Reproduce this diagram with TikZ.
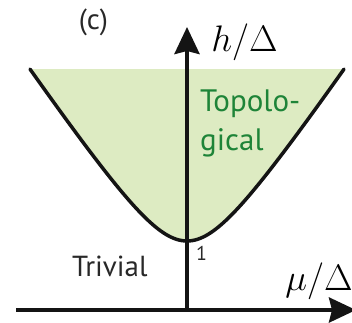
\documentclass[tikz,border=0pt]{standalone}
\usepackage{fontspec}
\newfontfamily\labelfont{PT Sans}
\usetikzlibrary{arrows.meta}
\definecolor{regionfill}{RGB}{221,235,194}
\definecolor{topogreen}{RGB}{30,132,56}
\definecolor{labelgray}{RGB}{40,40,40}
\definecolor{axisblack}{RGB}{20,20,20}
\tikzset{
  axisline/.style={draw=axisblack, line width=4pt, -{Stealth[length=27pt,width=25pt,inset=3pt]}},
  boundary/.style={draw=axisblack, line width=3.5pt},
  plaintext/.style={inner sep=0pt, anchor=base west, text=labelgray, font=\labelfont\fontsize{29}{34}\selectfont},
  greentext/.style={inner sep=0pt, anchor=base west, text=topogreen, font=\labelfont\fontsize{31}{36}\selectfont},
  mathlabel/.style={inner sep=0pt, anchor=base west, text=black, font=\fontsize{20}{24}\selectfont, scale=1.78},
}
\begin{document}
\begin{tikzpicture}[x=1pt,y=-1pt]
\useasboundingbox (0,0) rectangle (352,322);
% coordinates
\coordinate (origin) at (187,310);
\coordinate (xstart) at (16,310);
\coordinate (xend) at (356,310);
\coordinate (ytop) at (187,27);
% shaded region
\fill[regionfill] plot[domain=-157:157, samples=121]
  ({187+\x}, {310 - 10*sqrt(47.61 + (0.147*\x)^2)}) -- cycle;
% boundary curve
\draw[boundary, line cap=round] plot[domain=-157:157, samples=121]
  ({187+\x}, {310 - 10*sqrt(47.61 + (0.147*\x)^2)});
% axes
\draw[axisline] (xstart) -- (xend);
\draw[axisline] (origin) -- (ytop);
% labels
\node[plaintext, anchor=center] (panel) at (93.5,22.5) {(c)};
\node[plaintext] (trivial) at (72,276.5) {Trivial};
\node[greentext] (topo1) at (200,111) {Topolo-};
\node[greentext] (topo2) at (200,150) {gical};
\node[plaintext, font=\labelfont\fontsize{20}{24}\selectfont] (one) at (196,260) {1};
\node[mathlabel] (hlabel) at (211,51.5) {$h/\Delta$};
\node[mathlabel] (mulabel) at (285,290) {$\mu/\Delta$};
\end{tikzpicture}
\end{document}
